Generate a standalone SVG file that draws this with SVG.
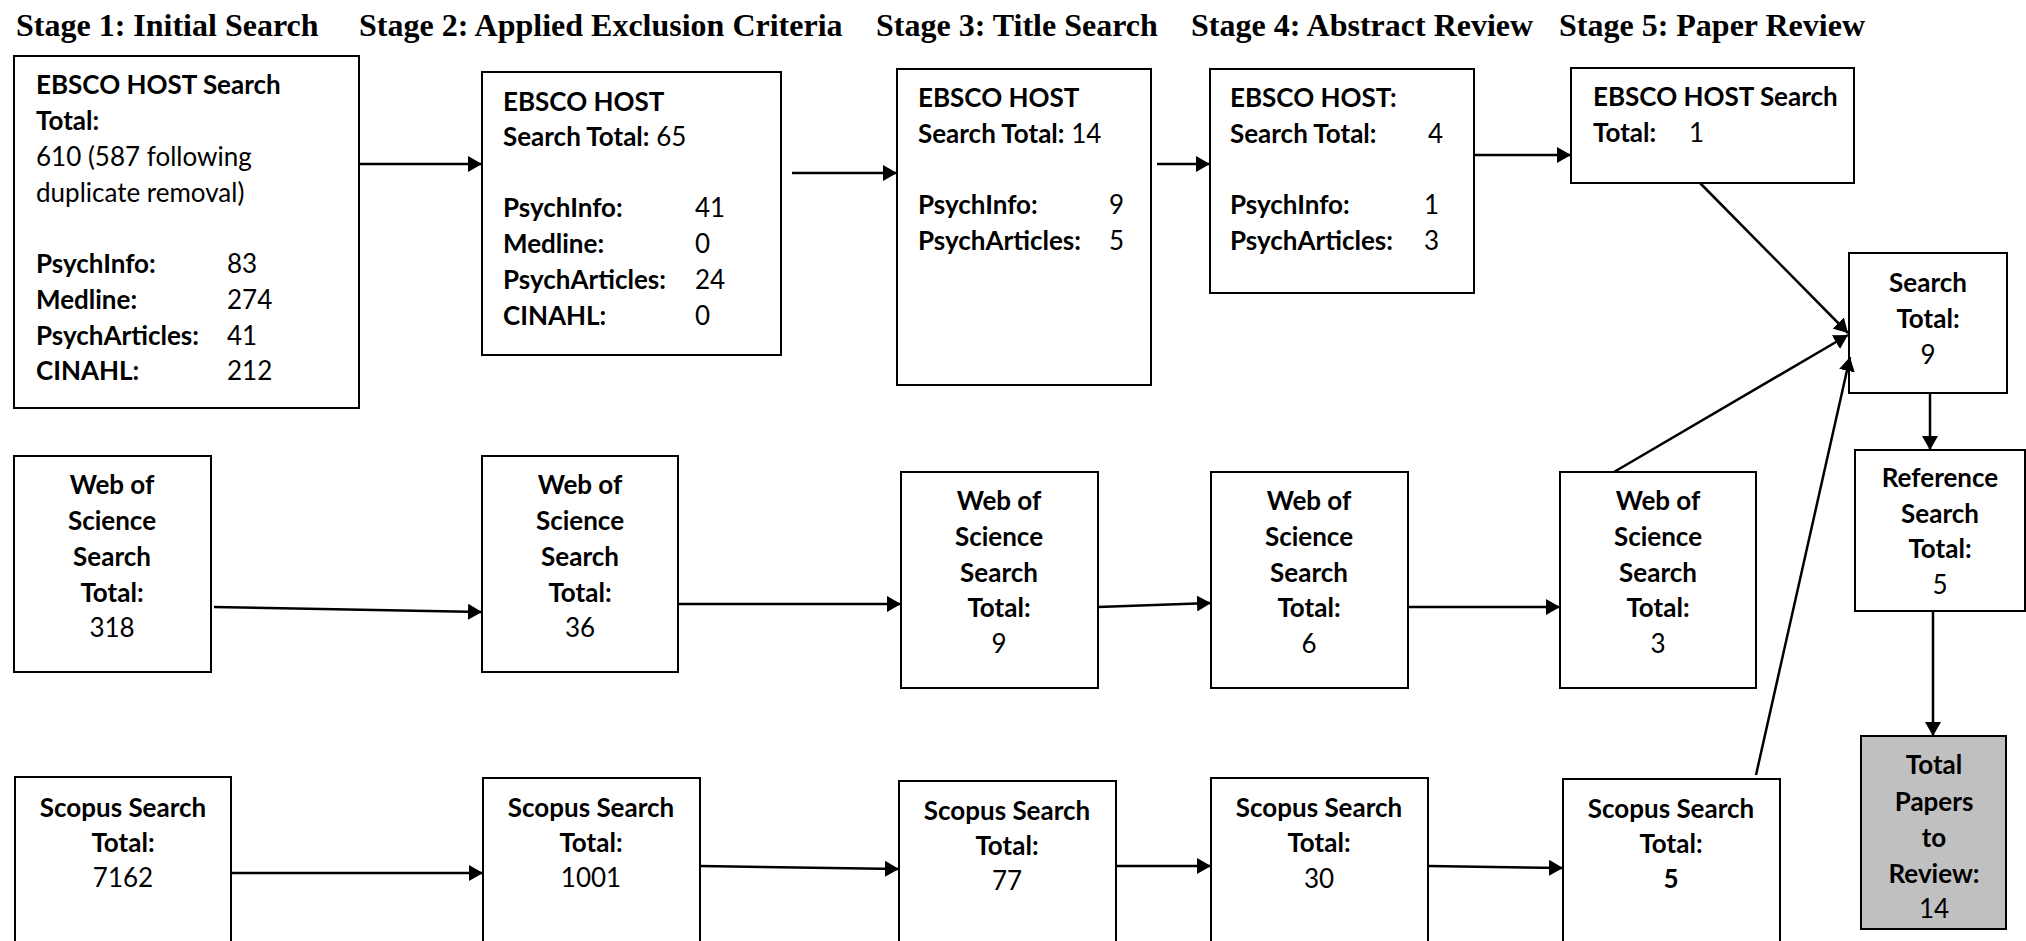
<svg xmlns="http://www.w3.org/2000/svg" width="2026" height="941" viewBox="0 0 2026 941">
<style>
.box{fill:#fff;stroke:#000;stroke-width:2}
.gray{fill:#c0c0c0;stroke:#000;stroke-width:2}
.hd{font-family:"Liberation Serif","Times New Roman",serif;font-weight:bold;font-size:32px;fill:#000}
.t{font-family:Lato,"Liberation Sans",sans-serif;font-size:26px;fill:#000}
.b{font-weight:bold}
.c{text-anchor:middle}
.ln{stroke:#000;stroke-width:2.5;fill:none;marker-end:url(#ah)}
</style>
<defs>
<marker id="ah" markerUnits="userSpaceOnUse" markerWidth="16" markerHeight="16" refX="14" refY="8" orient="auto">
<path d="M0,0 L14,8 L0,16 z" fill="#000"/>
</marker>
</defs>
<rect width="2026" height="941" fill="#fff"/>
<g id="headers">
<text class="hd" x="16" y="36">Stage 1: Initial Search</text>
<text class="hd" x="359" y="36">Stage 2: Applied Exclusion Criteria</text>
<text class="hd" x="876" y="36">Stage 3: Title Search</text>
<text class="hd" x="1191" y="36">Stage 4: Abstract Review</text>
<text class="hd" x="1559" y="36">Stage 5: Paper Review</text>
</g>
<g id="ebsco1">
<rect class="box" x="14" y="56" width="345" height="352"/>
<text class="t b" x="36" y="94">EBSCO HOST Search</text>
<text class="t b" x="36" y="130">Total:</text>
<text class="t" x="36" y="166">610 (587 following</text>
<text class="t" x="36" y="202">duplicate removal)</text>
<text class="t b" x="36" y="273">PsychInfo:</text><text class="t" x="227" y="273">83</text>
<text class="t b" x="36" y="309">Medline:</text><text class="t" x="227" y="309">274</text>
<text class="t b" x="36" y="345">PsychArticles:</text><text class="t" x="227" y="345">41</text>
<text class="t b" x="36" y="380">CINAHL:</text><text class="t" x="227" y="380">212</text>
</g>
<g id="ebsco2">
<rect class="box" x="482" y="72" width="299" height="283"/>
<text class="t b" x="503" y="111">EBSCO HOST</text>
<text class="t" x="503" y="146"><tspan class="b">Search Total:</tspan> 65</text>
<text class="t b" x="503" y="217">PsychInfo:</text><text class="t" x="695" y="217">41</text>
<text class="t b" x="503" y="253">Medline:</text><text class="t" x="695" y="253">0</text>
<text class="t b" x="503" y="289">PsychArticles:</text><text class="t" x="695" y="289">24</text>
<text class="t b" x="503" y="325">CINAHL:</text><text class="t" x="695" y="325">0</text>
</g>
<g id="ebsco3">
<rect class="box" x="897" y="69" width="254" height="316"/>
<text class="t b" x="918" y="107">EBSCO HOST</text>
<text class="t" x="918" y="143"><tspan class="b">Search Total:</tspan> 14</text>
<text class="t b" x="918" y="214">PsychInfo:</text><text class="t" x="1109" y="214">9</text>
<text class="t b" x="918" y="250">PsychArticles:</text><text class="t" x="1109" y="250">5</text>
</g>
<g id="ebsco4">
<rect class="box" x="1210" y="69" width="264" height="224"/>
<text class="t b" x="1230" y="107">EBSCO HOST:</text>
<text class="t b" x="1230" y="143">Search Total:</text><text class="t" x="1428" y="143">4</text>
<text class="t b" x="1230" y="214">PsychInfo:</text><text class="t" x="1424" y="214">1</text>
<text class="t b" x="1230" y="250">PsychArticles:</text><text class="t" x="1424" y="250">3</text>
</g>
<g id="ebsco5">
<rect class="box" x="1571" y="68" width="283" height="115"/>
<text class="t b" x="1593" y="106">EBSCO HOST Search</text>
<text class="t b" x="1593" y="142">Total:</text><text class="t" x="1689" y="142">1</text>
</g>
<g id="searchTotal">
<rect class="box" x="1849" y="253" width="158" height="140"/>
<text class="t b c" x="1928" y="292">Search</text>
<text class="t b c" x="1928" y="328">Total:</text>
<text class="t c" x="1928" y="364">9</text>
</g>
<g id="referenceSearch">
<rect class="box" x="1855" y="450" width="170" height="161"/>
<text class="t b c" x="1940" y="487">Reference</text>
<text class="t b c" x="1940" y="523">Search</text>
<text class="t b c" x="1940" y="558">Total:</text>
<text class="t c" x="1940" y="594">5</text>
</g>
<g id="totalPapers">
<rect class="gray" x="1861" y="736" width="145" height="193"/>
<text class="t b c" x="1934" y="774">Total</text>
<text class="t b c" x="1934" y="811">Papers</text>
<text class="t b c" x="1934" y="847">to</text>
<text class="t b c" x="1934" y="883">Review:</text>
<text class="t c" x="1934" y="918">14</text>
</g>
<g id="wos1">
<rect class="box" x="14" y="456" width="197" height="216"/>
<text class="t b c" x="112" y="494">Web of</text>
<text class="t b c" x="112" y="530">Science</text>
<text class="t b c" x="112" y="566">Search</text>
<text class="t b c" x="112" y="602">Total:</text>
<text class="t c" x="112" y="637">318</text>
</g>
<g id="wos2">
<rect class="box" x="482" y="456" width="196" height="216"/>
<text class="t b c" x="580" y="494">Web of</text>
<text class="t b c" x="580" y="530">Science</text>
<text class="t b c" x="580" y="566">Search</text>
<text class="t b c" x="580" y="602">Total:</text>
<text class="t c" x="580" y="637">36</text>
</g>
<g id="wos3">
<rect class="box" x="901" y="472" width="197" height="216"/>
<text class="t b c" x="999" y="510">Web of</text>
<text class="t b c" x="999" y="546">Science</text>
<text class="t b c" x="999" y="582">Search</text>
<text class="t b c" x="999" y="617">Total:</text>
<text class="t c" x="999" y="653">9</text>
</g>
<g id="wos4">
<rect class="box" x="1211" y="472" width="197" height="216"/>
<text class="t b c" x="1309" y="510">Web of</text>
<text class="t b c" x="1309" y="546">Science</text>
<text class="t b c" x="1309" y="582">Search</text>
<text class="t b c" x="1309" y="617">Total:</text>
<text class="t c" x="1309" y="653">6</text>
</g>
<g id="wos5">
<rect class="box" x="1560" y="472" width="196" height="216"/>
<text class="t b c" x="1658" y="510">Web of</text>
<text class="t b c" x="1658" y="546">Science</text>
<text class="t b c" x="1658" y="582">Search</text>
<text class="t b c" x="1658" y="617">Total:</text>
<text class="t c" x="1658" y="653">3</text>
</g>
<g id="scopus1">
<rect class="box" x="15" y="777" width="216" height="180"/>
<text class="t b c" x="123" y="817">Scopus Search</text>
<text class="t b c" x="123" y="852">Total:</text>
<text class="t c" x="123" y="887">7162</text>
</g>
<g id="scopus2">
<rect class="box" x="483" y="778" width="217" height="180"/>
<text class="t b c" x="591" y="817">Scopus Search</text>
<text class="t b c" x="591" y="852">Total:</text>
<text class="t c" x="591" y="887">1001</text>
</g>
<g id="scopus3">
<rect class="box" x="899" y="781" width="217" height="180"/>
<text class="t b c" x="1007" y="820">Scopus Search</text>
<text class="t b c" x="1007" y="855">Total:</text>
<text class="t c" x="1007" y="890">77</text>
</g>
<g id="scopus4">
<rect class="box" x="1211" y="778" width="217" height="180"/>
<text class="t b c" x="1319" y="817">Scopus Search</text>
<text class="t b c" x="1319" y="852">Total:</text>
<text class="t c" x="1319" y="888">30</text>
</g>
<g id="scopus5">
<rect class="box" x="1563" y="779" width="217" height="180"/>
<text class="t b c" x="1671" y="818">Scopus Search</text>
<text class="t b c" x="1671" y="853">Total:</text>
<text class="t b c" x="1671" y="888">5</text>
</g>
<g id="connectors">
<line class="ln" x1="359" y1="164" x2="482" y2="164"/>
<line class="ln" x1="792" y1="173" x2="897" y2="173"/>
<line class="ln" x1="1157" y1="164" x2="1210" y2="164"/>
<line class="ln" x1="1474" y1="155" x2="1571" y2="155"/>
<line class="ln" x1="1700" y1="183" x2="1848" y2="333"/>
<line class="ln" x1="1614" y1="472" x2="1848" y2="335"/>
<line class="ln" x1="1756" y1="775" x2="1850" y2="357"/>
<line class="ln" x1="1930" y1="393" x2="1930" y2="450"/>
<line class="ln" x1="1933" y1="611" x2="1933" y2="736"/>
<line class="ln" x1="214" y1="607" x2="482" y2="612"/>
<line class="ln" x1="678" y1="604" x2="901" y2="604"/>
<line class="ln" x1="1098" y1="607" x2="1211" y2="603"/>
<line class="ln" x1="1408" y1="607" x2="1560" y2="607"/>
<line class="ln" x1="231" y1="873" x2="483" y2="873"/>
<line class="ln" x1="700" y1="866" x2="899" y2="869"/>
<line class="ln" x1="1116" y1="866" x2="1211" y2="866"/>
<line class="ln" x1="1428" y1="866" x2="1563" y2="868"/>
</g>
</svg>
